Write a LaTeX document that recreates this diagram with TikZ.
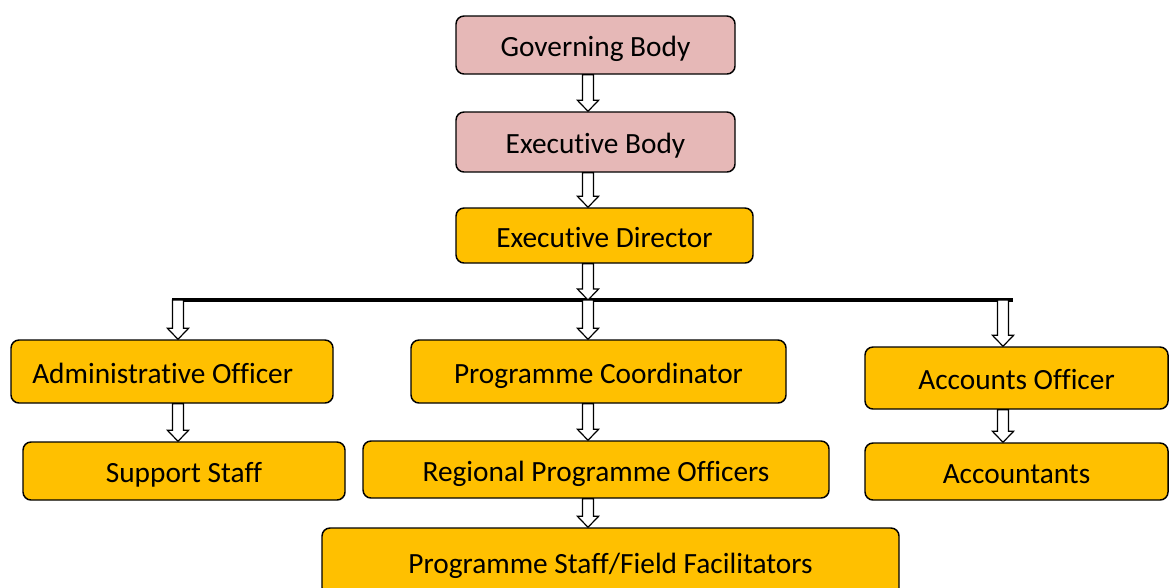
\documentclass[tikz,border=0pt]{standalone}
\usepackage{fontspec}
\setmainfont{Carlito}[Ligatures=CommonOff]
\usetikzlibrary{calc}

\definecolor{bodypink}{HTML}{E6B8B7}
\definecolor{staffgold}{HTML}{FFC000}

\tikzset{
  unit/.style={draw, line width=1.1pt, rounded corners=6pt, inner sep=0pt,
    text height=22pt, text depth=4.4pt,
    font=\fontsize{22}{26}\selectfont},
  board/.style={unit, fill=bodypink},
  office/.style={unit, fill=staffgold},
  hollow/.style={draw, fill=white, line width=0.9pt, line join=miter},
}

% hollow block arrow straight down from #1 to #2
\newcommand{\flowto}[2]{%
  \draw[hollow] let \p1=(#1), \p2=(#2) in
    (\x1-4.1pt,\y1) -- (\x1+4.1pt,\y1) -- (\x1+4.1pt,\y2+8.2pt)
    -- (\x1+7.9pt,\y2+8.2pt) -- (\x1,\y2) -- (\x1-7.9pt,\y2+8.2pt)
    -- (\x1-4.1pt,\y2+8.2pt) -- cycle;}

\begin{document}
\begin{tikzpicture}[x=0.75pt, y=-0.75pt]
  \useasboundingbox (0,0) rectangle (1169,587);

  % governing side
  \node[board, minimum width=209.25pt, minimum height=43.5pt] (gov) at (595.5,45) {Governing Body};
  \node[board, minimum width=209.25pt, minimum height=45pt] (exb) at (595.5,142) {Executive Body};
  \node[office, minimum width=222.75pt, minimum height=41.25pt] (exd) at (604.5,235.5) {Executive Director};

  % the three branches
  \node[office, minimum width=241.5pt, minimum height=47.25pt] (adm) at (172,371.5) {Administrative Officer\kern14pt};
  \node[office, minimum width=241.5pt, minimum height=43.5pt] (sup) at (184,471) {Support Staff};
  \node[office, minimum width=281.25pt, minimum height=47.25pt] (pco) at (598.5,371.5) {Programme Coordinator};
  \node[office, minimum width=349.5pt, minimum height=42.75pt] (rpo) at (596,469.5) {Regional Programme Officers};
  \node[office, minimum width=432.75pt, minimum height=51pt] (pst) at (610.5,562) {Programme Staff/Field Facilitators};
  \node[office, minimum width=227.25pt, minimum height=46.5pt] (acc) at (1016.5,378) {Accounts Officer};
  \node[office, minimum width=227.25pt, minimum height=42.75pt] (acn) at (1016.5,471.5) {Accountants};

  % bar and the columns of the arrows
  \coordinate (barL) at (172,300);
  \coordinate (barR) at (1013,300);
  \coordinate (spine) at (588,300);
  \coordinate (colA) at (178,300);
  \coordinate (colC) at (1003,300);
  \draw[line width=2.4pt] (barL) -- (barR);

  \flowto{gov.south -| spine}{exb.north -| spine}
  \flowto{exb.south -| spine}{exd.north -| spine}
  \flowto{exd.south -| spine}{spine}
  \flowto{colA}{adm.north -| colA}
  \flowto{spine}{pco.north -| spine}
  \flowto{colC}{acc.north -| colC}
  \flowto{adm.south -| colA}{sup.north -| colA}
  \flowto{pco.south -| spine}{rpo.north -| spine}
  \flowto{rpo.south -| spine}{pst.north -| spine}
  \flowto{acc.south -| colC}{acn.north -| colC}
\end{tikzpicture}
\end{document}
